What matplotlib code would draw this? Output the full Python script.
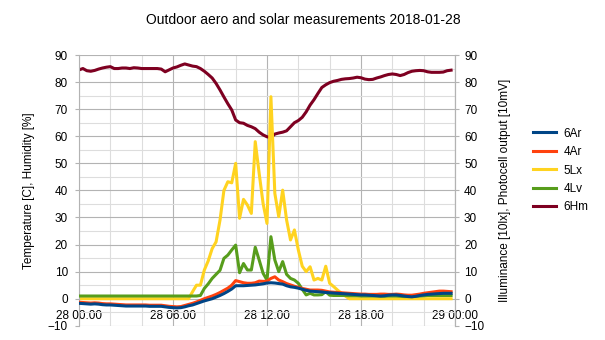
import numpy as np
import pandas as pd
import matplotlib
matplotlib.use("Agg")
import matplotlib.pyplot as plt
import matplotlib.dates as mdates

plt.rcParams.update({
    "font.family": ["Liberation Sans", "DejaVu Sans"],
    "font.size": 8.5,
})

# 15 minute samples over the day
times = pd.date_range("2018-01-28 00:00", periods=96, freq="15min")

ar6 = [-1.7, -1.8, -1.9, -2.0, -1.9, -2.0, -2.2, -2.3,
       -2.3, -2.4, -2.5, -2.6, -2.7, -2.7, -2.7, -2.7,
       -2.7, -2.7, -2.8, -2.8, -2.8, -2.8, -3.0, -3.2,
       -3.3, -3.4, -3.3, -3.0, -2.6, -2.3, -1.8, -1.3,
       -0.8, -0.4, 0.0, 0.6, 1.2, 1.9, 2.7, 3.6,
       4.8, 4.8, 4.8, 4.9, 5.0, 5.1, 5.3, 5.5,
       5.8, 5.9, 5.8, 5.6, 5.4, 4.8, 4.4, 4.2,
       3.9, 3.5, 3.1, 2.8, 2.7, 2.6, 2.5, 2.3,
       2.2, 2.1, 2.0, 1.9, 1.8, 1.7, 1.6, 1.5,
       1.4, 1.4, 1.3, 1.2, 1.1, 1.0, 1.1, 1.3,
       1.4, 1.4, 1.2, 1.0, 0.8, 0.7, 0.9, 1.2,
       1.4, 1.6, 1.7, 1.8, 1.9, 2.0, 2.0, 2.0]

ar4 = [-1.3, -1.4, -1.5, -1.6, -1.5, -1.6, -1.8, -1.9,
       -1.9, -2.0, -2.1, -2.2, -2.3, -2.3, -2.3, -2.3,
       -2.3, -2.3, -2.4, -2.4, -2.4, -2.4, -2.6, -2.8,
       -2.9, -3.0, -2.9, -2.5, -2.1, -1.7, -1.2, -0.6,
       0.0, 0.5, 1.0, 1.6, 2.3, 3.1, 3.9, 5.0,
       6.7, 6.3, 5.9, 5.7, 5.7, 5.9, 6.5, 6.4,
       6.5, 7.5, 8.1, 6.9, 6.3, 5.6, 5.1, 4.6,
       4.2, 3.8, 3.5, 3.2, 3.2, 3.2, 3.1, 2.8,
       2.5, 2.4, 2.3, 2.2, 2.1, 2.0, 1.9, 1.8,
       1.7, 1.7, 1.6, 1.6, 1.6, 1.7, 1.7, 1.6,
       1.6, 1.7, 1.6, 1.4, 1.3, 1.3, 1.5, 1.7,
       2.0, 2.2, 2.4, 2.6, 2.8, 2.8, 2.7, 2.6]

lx5 = [0.0, 0.0, 0.0, 0.0, 0.0, 0.0, 0.0, 0.0,
       0.0, 0.0, 0.0, 0.0, 0.0, 0.0, 0.0, 0.0,
       0.0, 0.0, 0.0, 0.0, 0.0, 0.0, 0.0, 0.0,
       0.0, 0.0, 0.0, 0.0, 0.0, 2.6, 5.0, 5.0,
       10.6, 14.0, 18.5, 21.0, 29.0, 40.0, 43.2, 42.8,
       50.0, 29.7, 36.7, 34.6, 31.5, 58.0, 46.3, 35.2,
       27.8, 74.6, 38.9, 30.3, 40.1, 29.1, 21.7, 25.4,
       18.0, 12.0, 10.0, 11.8, 6.9, 7.5, 6.9, 12.0,
       5.7, 4.5, 3.2, 2.0, 1.0, 0.0, 0.0, 0.0,
       0.0, 0.0, 0.0, 0.0, 0.0, 0.0, 0.0, 0.0,
       0.0, 0.0, 0.0, 0.0, 0.0, 0.0, 0.0, 0.0,
       0.0, 0.0, 0.0, 0.0, 0.0, 0.0, 0.0, 0.0]

lv4 = [1.0, 1.0, 1.0, 1.0, 1.0, 1.0, 1.0, 1.0,
       1.0, 1.0, 1.0, 1.0, 1.0, 1.0, 1.0, 1.0,
       1.0, 1.0, 1.0, 1.0, 1.0, 1.0, 1.0, 1.0,
       1.0, 1.0, 1.0, 1.0, 1.0, 1.0, 1.0, 1.2,
       3.8, 5.5, 7.5, 9.0, 10.5, 14.9, 16.1, 18.0,
       19.8, 9.6, 13.0, 10.6, 10.6, 19.0, 14.3, 9.4,
       6.9, 22.9, 14.3, 10.0, 13.7, 9.0, 7.5, 6.9,
       5.7, 3.5, 1.4, 2.0, 1.4, 1.4, 1.5, 2.6,
       1.3, 1.2, 1.2, 1.2, 1.2, 1.1, 1.1, 1.1,
       1.0, 1.0, 1.0, 1.0, 1.0, 0.9, 0.9, 1.0,
       1.0, 1.0, 0.9, 0.8, 0.8, 0.8, 0.9, 1.0,
       1.1, 1.2, 1.2, 1.2, 1.2, 1.2, 1.2, 1.2]

hm6 = [84.5, 85.0, 84.2, 84.0, 84.3, 84.8, 85.2, 85.5,
       85.7, 85.0, 85.0, 85.2, 85.2, 85.0, 85.3, 85.2,
       85.0, 85.0, 85.0, 85.0, 85.0, 84.8, 83.8, 84.5,
       85.2, 85.6, 86.2, 86.7, 86.3, 85.9, 85.7, 85.0,
       84.0, 82.8, 81.5, 79.5, 77.1, 74.5, 72.0, 69.7,
       66.0, 65.0, 64.8, 64.0, 63.5, 62.8, 61.5, 60.5,
       59.8, 59.5, 60.8, 61.2, 61.5, 62.0, 63.5, 65.0,
       65.8, 67.0, 69.0, 71.5, 73.5, 75.8, 78.0, 79.0,
       79.8, 80.3, 80.6, 81.0, 81.2, 81.3, 81.5, 81.8,
       81.6, 81.1, 80.9, 81.0, 81.5, 81.9, 82.4, 82.8,
       83.0, 82.8, 82.4, 82.8, 83.5, 84.0, 84.2, 84.3,
       84.2, 83.8, 83.6, 83.6, 83.6, 83.7, 84.2, 84.4]

series = [
    ("6Ar", ar6, "#004586", 5),
    ("4Ar", ar4, "#ff420e", 4),
    ("5Lx", lx5, "#ffd320", 2),
    ("4Lv", lv4, "#579d1c", 3),
    ("6Hm", hm6, "#7e0021", 1),
]

fig = plt.figure(figsize=(6.05, 3.4), dpi=100)
ax = fig.add_axes([79 / 605, 1 - 325.8 / 340, 376 / 605, 270.8 / 340])

for name, vals, col, z in series:
    ax.plot(times, vals, color=col, lw=2.2, label=name, zorder=z,
            solid_joinstyle="round")

ax.set_xlim(pd.Timestamp("2018-01-28 00:00"), pd.Timestamp("2018-01-29 00:00"))
ax.set_ylim(-10, 90)

ax.xaxis.set_major_locator(mdates.HourLocator(byhour=[0, 6, 12, 18]))
ax.xaxis.set_minor_locator(mdates.HourLocator(interval=2))
ax.xaxis.set_major_formatter(mdates.DateFormatter("%d %H:%M"))
ax.set_yticks(np.arange(-10, 91, 10))
ax.set_yticks(np.arange(-5, 90, 10), minor=True)

ax.grid(which="major", color="#b3b3b3", lw=0.8, zorder=0)
ax.grid(which="minor", color="#dddddd", lw=0.8, zorder=0)
ax.set_axisbelow(True)

# x labels hang off the zero line
ax.spines["bottom"].set_position(("data", 0))
ax.spines["bottom"].set_visible(False)
ax.spines["top"].set_visible(False)
for s in ("left", "right"):
    ax.spines[s].set_color("#b3b3b3")
ax.tick_params(axis="x", which="both", length=0, pad=8, labelcolor="black")
ax.tick_params(axis="y", which="major", length=3, color="#b3b3b3", pad=5)
ax.tick_params(axis="y", which="minor", length=0)

ax.set_ylabel("Temperature [C], Humidity [%]")
ax.yaxis.set_label_coords(-0.117, 0.5)

# secondary scale on the right
ax2 = ax.twinx()
ax2.set_ylim(-10, 90)
ax2.set_yticks(np.arange(-10, 91, 10))
for s in ("top", "bottom", "left"):
    ax2.spines[s].set_visible(False)
ax2.spines["right"].set_color("#b3b3b3")
ax2.tick_params(axis="y", length=3, color="#b3b3b3", pad=3.5)
ax2.set_ylabel("Illuminance [10lx], Photocell output [10mV]")
ax2.yaxis.set_label_coords(1.117, 0.5)

fig.text(0.502, 1 - 20 / 340, "Outdoor aero and solar measurements 2018-01-28",
         ha="center", va="center", fontsize=10)

handles, labels = ax.get_legend_handles_labels()
fig.legend(handles, labels, loc="center left",
           bbox_to_anchor=(522 / 605, 1 - 170.5 / 340), frameon=False,
           handlelength=2.0, handletextpad=0.6, labelspacing=0.55,
           fontsize=8.5)

fig.savefig("out.png", dpi=100)
